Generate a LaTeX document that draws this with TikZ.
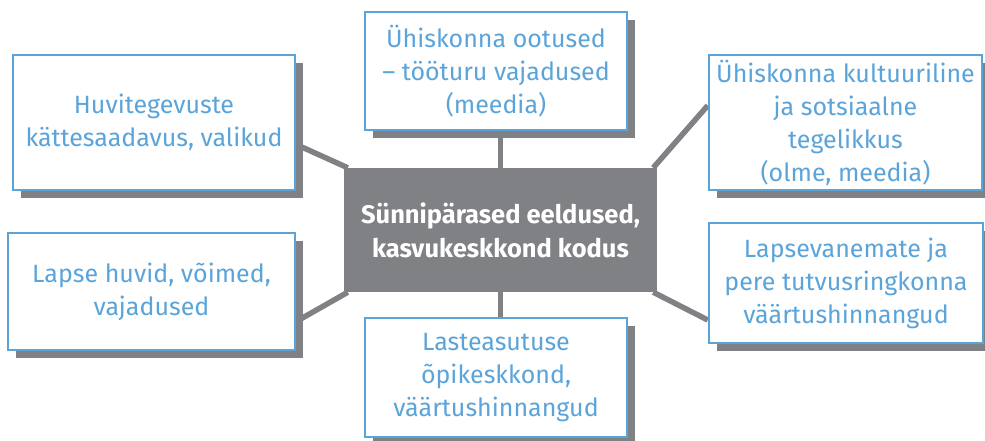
\documentclass[tikz,border=0pt]{standalone}
\usepackage{fontspec}
\setmainfont{Fira Sans}
\usetikzlibrary{backgrounds,calc}
\definecolor{boxgray}{HTML}{808184}
\definecolor{boxblue}{HTML}{5BA4DA}
\tikzset{
  leaf/.style={draw=boxblue, line width=2.5pt, fill=white, text=boxblue,
    align=center, inner sep=0pt, font=\fontsize{25}{33}\selectfont},
  hub/.style={fill=boxgray, text=white, align=center, inner sep=0pt,
    font=\bfseries\fontsize{25.5}{34}\selectfont},
  link/.style={draw=boxgray, line width=5.5pt}
}
\begin{document}
\begin{tikzpicture}[x=1pt,y=-1pt]
\useasboundingbox (0,0) rectangle (985,440);
\node[hub, minimum width=313pt, minimum height=124pt] (M) at (500.5,230) {Sünnipärased eeldused,\\kasvukeskkond kodus};
\node[leaf, minimum width=282pt, minimum height=135pt] (A) at (154,122.5) {Huvitegevuste\\kättesaadavus, valikud};
\node[leaf, minimum width=262pt, minimum height=118pt] (B) at (496,71) {Ühiskonna ootused\\– tööturu vajadused\\(meedia)};
\node[leaf, minimum width=273pt, minimum height=135pt] (C) at (845.5,122.5) {Ühiskonna kultuuriline\\ja sotsiaalne\\tegelikkus\\(olme, meedia)};
\node[leaf, minimum width=287pt, minimum height=117pt] (D) at (151.5,291.5) {Lapse huvid, võimed,\\vajadused};
\node[leaf, minimum width=262pt, minimum height=119pt] (E) at (496,377.5) {Lasteasutuse\\õpikeskkond,\\väärtushinnangud};
\node[leaf, minimum width=274pt, minimum height=120pt] (F) at (846,283) {Lapsevanemate ja\\pere tutvusringkonna\\väärtushinnangud};
\begin{scope}[on background layer]
\fill[boxgray] (21,63) rectangle (303,198);
\fill[boxgray] (373,20) rectangle (635,138);
\fill[boxgray] (717,63) rectangle (990,198);
\fill[boxgray] (16,241) rectangle (303,358);
\fill[boxgray] (373,326) rectangle (635,445);
\fill[boxgray] (717,231) rectangle (991,351);
\draw[link] ($(A.east)+(0,22)$) -- ($(M.north west)+(4,0)$);
\draw[link] ($(C.west)+(0,-17)$) -- ($(M.north east)+(-4,0)$);
\draw[link] ($(D.east)+(0,30)$) -- ($(M.south west)+(4,0)$);
\draw[link] ($(F.west)+(0,37)$) -- ($(M.south east)+(-4,0)$);
\draw[link] (B.south -| M.north) -- (M.north);
\draw[link] (E.north -| M.south) -- (M.south);
\end{scope}
\end{tikzpicture}
\end{document}
